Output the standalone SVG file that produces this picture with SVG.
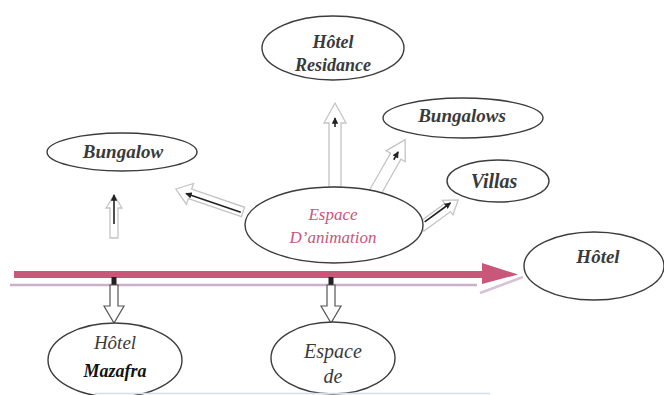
<svg xmlns="http://www.w3.org/2000/svg" width="664" height="395" viewBox="0 0 664 395">
<style>
.node ellipse{fill:#fff;stroke:#3c3c3c;stroke-width:1.4}
.hollow{fill:#fff;stroke:#c4c4c4;stroke-width:1.3}
.down{fill:#fff;stroke:#555;stroke-width:1.2}
.blk{stroke:#222;stroke-width:1.6;fill:none}
</style>
<defs>
<marker id="ah" viewBox="0 0 10 10" refX="9" refY="5" markerWidth="4" markerHeight="4" orient="auto"><path d="M0,0 L10,5 L0,10 z" fill="#222"/></marker>
</defs>
<rect width="664" height="395" fill="#fff"/>
<g id="connectors">
<line x1="10" y1="285" x2="477" y2="285" stroke="#cbb0cc" stroke-width="2.5"/>
<line x1="480" y1="293" x2="523" y2="277" stroke="#d8c2d8" stroke-width="2.5"/>
<polygon points="14,271 482,271 482,263 518,274.5 482,284 482,278 14,278" fill="#c9577a"/>
<g transform="translate(243,212) rotate(-161.1)">
<polygon class="hollow" points="0,-5 56,-5 56,-11 71,0 56,11 56,5 0,5"/>
<line class="blk" x1="2" y1="-1" x2="60" y2="-1" marker-end="url(#ah)"/>
</g>
<g transform="translate(335,187) rotate(-90)">
<polygon class="hollow" points="0,-6 64,-6 64,-11 84,0 64,11 64,6 0,6"/>
<line class="blk" x1="60" y1="0" x2="69" y2="0" marker-end="url(#ah)"/>
</g>
<g transform="translate(372,198) rotate(-60.4)">
<polygon class="hollow" points="0,-6 48,-6 48,-11 67,0 48,11 48,6 0,6"/>
<line class="blk" x1="44" y1="0" x2="53" y2="0" marker-end="url(#ah)"/>
</g>
<g transform="translate(421,227) rotate(-36.1)">
<polygon class="hollow" points="0,-5 33,-5 33,-9 46,0 33,9 33,5 0,5"/>
<line class="blk" x1="6" y1="-2" x2="38" y2="-2" marker-end="url(#ah)"/>
</g>
<g transform="translate(114,238) rotate(-90)">
<polygon class="hollow" points="0,-4 30,-4 30,-8 43,0 30,8 30,4 0,4"/>
<line class="blk" x1="14" y1="0" x2="43" y2="0" marker-end="url(#ah)"/>
</g>
<rect x="111.5" y="277" width="5" height="8" fill="#222"/>
<polygon class="down" points="110,285 118,285 118,306 124,306 114,323 104,306 110,306"/>
<rect x="328.5" y="277" width="5" height="8" fill="#222"/>
<polygon class="down" points="327,285 335,285 335,306 341,306 331,323 321,306 327,306"/>
</g>
<g id="residance" class="node">
<ellipse cx="333" cy="48" rx="71" ry="32"/>
<text x="333" y="48" font-size="18" font-family="'Liberation Serif', serif" font-style="italic" font-weight="bold" fill="#3a3a3a" text-anchor="middle">Hôtel</text>
<text x="333" y="71" font-size="18" font-family="'Liberation Serif', serif" font-style="italic" font-weight="bold" fill="#3a3a3a" text-anchor="middle">Residance</text>
</g>
<g id="bungalow" class="node">
<ellipse cx="122" cy="152" rx="75" ry="19"/>
<text x="123" y="158" font-size="19" font-family="'Liberation Serif', serif" font-style="italic" font-weight="bold" fill="#3a3a3a" text-anchor="middle">Bungalow</text>
</g>
<g id="bungalows" class="node">
<ellipse cx="463" cy="118" rx="80" ry="20"/>
<text x="462" y="122" font-size="19" font-family="'Liberation Serif', serif" font-style="italic" font-weight="bold" fill="#3a3a3a" text-anchor="middle">Bungalows</text>
</g>
<g id="villas" class="node">
<ellipse cx="498" cy="181" rx="51" ry="21"/>
<text x="494" y="188" font-size="20" font-family="'Liberation Serif', serif" font-style="italic" font-weight="bold" fill="#3a3a3a" text-anchor="middle">Villas</text>
</g>
<g id="animation" class="node">
<ellipse cx="334" cy="225" rx="89" ry="38"/>
<text x="333" y="220" font-size="17" font-family="'Liberation Serif', serif" font-style="italic" fill="#c8557a" text-anchor="middle">Espace</text>
<text x="333" y="243" font-size="17" font-family="'Liberation Serif', serif" font-style="italic" fill="#c8557a" text-anchor="middle">D’animation</text>
</g>
<g id="hotel" class="node">
<ellipse cx="594" cy="266" rx="70" ry="34"/>
<text x="598" y="263" font-size="19" font-family="'Liberation Serif', serif" font-style="italic" font-weight="bold" fill="#3a3a3a" text-anchor="middle">Hôtel</text>
</g>
<g id="mazafra" class="node">
<ellipse cx="115" cy="360" rx="67" ry="37"/>
<text x="115" y="349" font-size="19" font-family="'Liberation Serif', serif" font-style="italic" fill="#3a3a3a" text-anchor="middle">Hôtel</text>
<text x="115" y="377" font-size="18" font-family="'Liberation Serif', serif" font-style="italic" font-weight="bold" fill="#111" text-anchor="middle">Mazafra</text>
</g>
<g id="espace-de" class="node">
<ellipse cx="333" cy="358" rx="62" ry="36"/>
<text x="333" y="358" font-size="20" font-family="'Liberation Serif', serif" font-style="italic" fill="#3a3a3a" text-anchor="middle">Espace</text>
<text x="333" y="383" font-size="20" font-family="'Liberation Serif', serif" font-style="italic" fill="#3a3a3a" text-anchor="middle">de</text>
</g>
<line x1="95" y1="393.5" x2="490" y2="393.5" stroke="#cfe0f0" stroke-width="1.5"/>
</svg>
